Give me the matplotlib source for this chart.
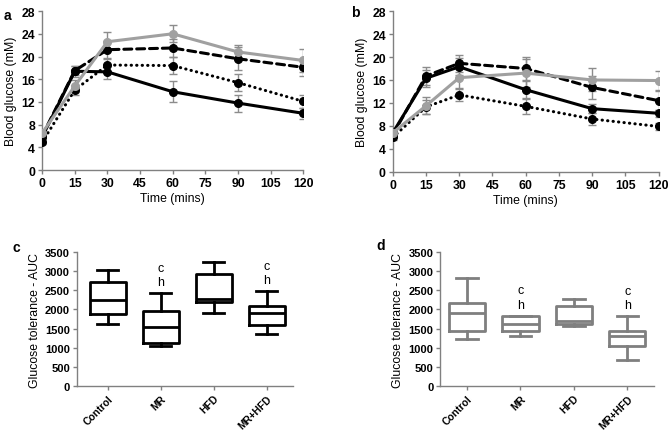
import numpy as np
import matplotlib
matplotlib.use('Agg')
import matplotlib.pyplot as plt

plt.rcParams['font.family'] = ['Liberation Sans', 'DejaVu Sans']
plt.rcParams['font.weight'] = 'bold'

# time course data (mM)
time_pts = [0, 15, 30, 60, 90, 120]

a_solid = [5.8, 17.4, 17.3, 13.8, 11.8, 10.0]
a_solid_err = [0.5, 1.0, 1.3, 1.8, 1.5, 1.0]
a_dashed = [6.0, 17.5, 21.2, 21.5, 19.6, 18.1]
a_dashed_err = [0.5, 0.8, 1.5, 1.5, 2.0, 1.5]
a_dotted = [4.9, 14.1, 18.5, 18.4, 15.4, 12.1]
a_dotted_err = [0.3, 0.8, 1.0, 1.5, 1.5, 1.2]
a_gray = [6.5, 14.8, 22.6, 24.0, 20.8, 19.3]
a_gray_err = [0.5, 1.0, 1.7, 1.5, 1.3, 2.0]

b_solid = [6.8, 16.3, 18.3, 14.3, 11.0, 10.2]
b_solid_err = [0.5, 1.5, 1.5, 1.5, 0.8, 0.6]
b_dashed = [6.5, 16.7, 18.9, 18.0, 14.7, 12.4]
b_dashed_err = [0.5, 1.5, 1.5, 2.0, 2.0, 1.6]
b_dotted = [6.0, 11.3, 13.4, 11.4, 9.2, 7.9]
b_dotted_err = [0.4, 1.2, 1.0, 1.3, 1.0, 0.6]
b_gray = [6.8, 11.5, 16.4, 17.2, 16.0, 15.9]
b_gray_err = [0.5, 1.5, 1.8, 2.5, 2.0, 1.7]

# AUC box stats: low whisker, q1, median, q3, high whisker
groups = ['Control', 'MR', 'HFD', 'MR+HFD']
c_stats = [[1610, 1890, 2250, 2720, 3020],
           [1050, 1130, 1540, 1970, 2420],
           [1900, 2190, 2280, 2920, 3250],
           [1360, 1590, 1900, 2100, 2470]]
d_stats = [[1240, 1450, 1920, 2180, 2810],
           [1300, 1450, 1630, 1830, 1840],
           [1560, 1610, 1700, 2080, 2270],
           [670, 1040, 1310, 1440, 1820]]
c_marks = ['', 'c\nh', '', 'c\nh']
d_marks = ['', 'c\nh', '', 'c\nh']

GRAY = '#a0a0a0'
SPINE = '#808080'


def style_axis(ax, size):
    for s in ['top', 'right']:
        ax.spines[s].set_visible(False)
    for s in ['left', 'bottom']:
        ax.spines[s].set_color(SPINE)
        ax.spines[s].set_linewidth(1.0)
    ax.tick_params(colors=SPINE, labelcolor='black', length=3, width=1.0,
                   labelsize=size, pad=2)


def plot_course(ax, series):
    for y, err, ls, col in series:
        ax.errorbar(time_pts, y, yerr=err, color=col, ls=ls, lw=2.2,
                    marker='o', ms=5.5, mfc=col, mec=col,
                    dash_capstyle='round',
                    ecolor='#8c8c8c', elinewidth=1.0, capsize=3, capthick=1.0,
                    zorder=3)
    ax.set_xlim(0, 120)
    ax.set_ylim(0, 28)
    ax.set_xticks(range(0, 121, 15))
    ax.set_yticks(range(0, 29, 4))
    ax.set_xlabel('Time (mins)', fontsize=8.8, fontweight='normal', labelpad=2)
    ax.set_ylabel('Blood glucose (mM)', fontsize=8.8, fontweight='normal',
                  labelpad=3)
    style_axis(ax, 8.8)


def plot_boxes(ax, stats, marks, col, xlim):
    bxp = []
    for lo, q1, med, q3, hi in stats:
        bxp.append({'whislo': lo, 'q1': q1, 'med': med, 'q3': q3,
                    'whishi': hi, 'fliers': []})
    pos = np.arange(len(stats))
    ax.bxp(bxp, positions=pos, widths=0.68, showfliers=False,
           boxprops=dict(color=col, lw=2),
           medianprops=dict(color=col, lw=2),
           whiskerprops=dict(color=col, lw=2),
           capprops=dict(color=col, lw=2), capwidths=0.4)
    for p, m, st in zip(pos, marks, stats):
        if m:
            ax.text(p, st[4] + 130, m, ha='center', va='bottom',
                    fontsize=9, fontweight='normal', linespacing=1.25)
    ax.set_xlim(*xlim)
    ax.set_ylim(0, 3500)
    ax.set_yticks(range(0, 3501, 500))
    ax.set_xticks(pos)
    ax.set_xticklabels(groups, rotation=45, ha='right', rotation_mode='anchor')
    ax.set_ylabel('Glucose tolerance - AUC', fontsize=8.8, fontweight='normal',
                  labelpad=3)
    style_axis(ax, 8)
    ax.tick_params(axis='x', labelsize=7.4)


fig = plt.figure(figsize=(6.68, 4.31), dpi=100)

ax_a = fig.add_axes([0.063, 0.603, 0.391, 0.369])
plot_course(ax_a, [(a_dotted, a_dotted_err, (0, (0.1, 1.7)), 'black'),
                   (a_dashed, a_dashed_err, (0, (2.6, 1.6)), 'black'),
                   (a_solid, a_solid_err, '-', 'black'),
                   (a_gray, a_gray_err, '-', GRAY)])

ax_b = fig.add_axes([0.588, 0.599, 0.398, 0.373])
plot_course(ax_b, [(b_dotted, b_dotted_err, (0, (0.1, 1.7)), 'black'),
                   (b_dashed, b_dashed_err, (0, (2.6, 1.6)), 'black'),
                   (b_solid, b_solid_err, '-', 'black'),
                   (b_gray, b_gray_err, '-', GRAY)])

ax_c = fig.add_axes([0.115, 0.102, 0.323, 0.311])
plot_boxes(ax_c, c_stats, c_marks, 'black', (-0.58, 3.49))

ax_d = fig.add_axes([0.659, 0.102, 0.320, 0.311])
plot_boxes(ax_d, d_stats, d_marks, '#7f7f7f', (-0.5, 3.5))

for lab, x, y in [('a', 0.006, 0.978), ('b', 0.525, 0.985),
                  ('c', 0.018, 0.44), ('d', 0.563, 0.445)]:
    fig.text(x, y, lab, fontsize=10, fontweight='bold', va='top')

fig.savefig('out.png', dpi=100)
